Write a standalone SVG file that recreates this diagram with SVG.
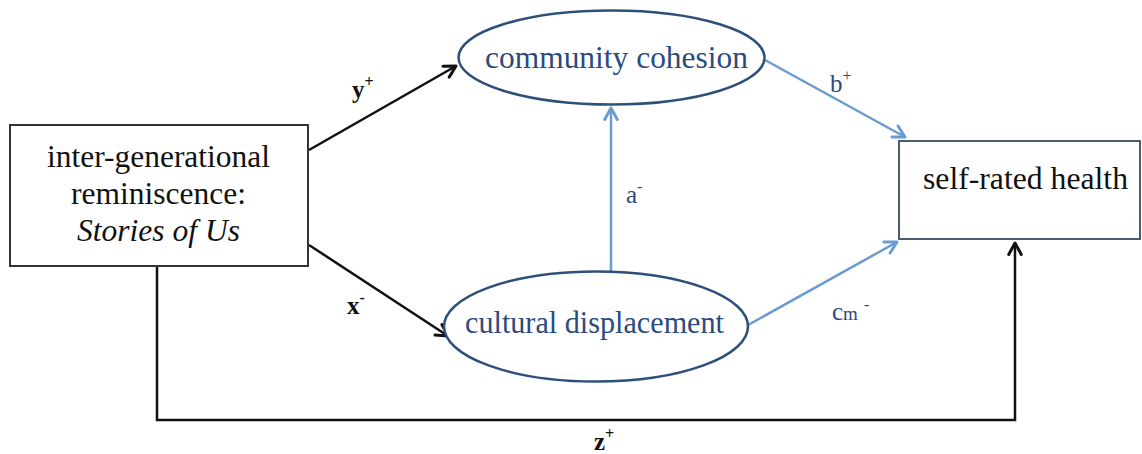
<svg xmlns="http://www.w3.org/2000/svg" width="1142" height="454" viewBox="0 0 1142 454">
<style>
text{font-family:"Liberation Serif","Times New Roman",serif;}
.node{fill:#111;font-size:31px;}
.ell{fill:#2b4a7e;font-size:31px;}
.lblk{font-weight:bold;font-size:25px;fill:#111;}
.lblu{font-size:25px;fill:#2b4a7e;}
.sup{font-size:16px;}
.bk{stroke:#111;stroke-width:2.5;fill:none;}
.bl{stroke:#6a9bd1;stroke-width:2.5;fill:none;}
</style>
<defs>
<marker id="ak" viewBox="0 0 14 14" refX="12" refY="7" markerWidth="16" markerHeight="16" markerUnits="userSpaceOnUse" orient="auto">
<path d="M2,1.5 L12,7 L2,12.5" fill="none" stroke="#111" stroke-width="2.6" stroke-linecap="round" stroke-linejoin="round"/>
</marker>
<marker id="ab" viewBox="0 0 14 14" refX="12" refY="7" markerWidth="16" markerHeight="16" markerUnits="userSpaceOnUse" orient="auto">
<path d="M2,1.5 L12,7 L2,12.5" fill="none" stroke="#6a9bd1" stroke-width="2.6" stroke-linecap="round" stroke-linejoin="round"/>
</marker>
</defs>
<g id="connectors">
<line class="bk" x1="309" y1="150" x2="456" y2="66" marker-end="url(#ak)"/>
<line class="bk" x1="309" y1="245" x2="448" y2="336" marker-end="url(#ak)"/>
<path class="bk" d="M157,266 V420 H1015 V243" marker-end="url(#ak)"/>
<line class="bl" x1="611" y1="271" x2="611" y2="108" marker-end="url(#ab)"/>
<line class="bl" x1="765" y1="60" x2="905" y2="137" marker-end="url(#ab)"/>
<line class="bl" x1="748" y1="325" x2="897" y2="242" marker-end="url(#ab)"/>
<text class="lblk" x="352" y="98">y<tspan class="sup" dy="-11">+</tspan></text>
<text class="lblk" x="347" y="314">x<tspan class="sup" dy="-11">-</tspan></text>
<text class="lblk" x="594" y="450">z<tspan class="sup" dy="-11">+</tspan></text>
<text class="lblu" x="626" y="203">a<tspan class="sup" dy="-11">-</tspan></text>
<text class="lblu" x="830" y="92">b<tspan class="sup" dy="-11">+</tspan></text>
<text class="lblu" x="832" y="320">c<tspan font-size="19">m</tspan><tspan class="sup" dx="6" dy="-10">-</tspan></text>
</g>
<g id="n-intergenerational">
<rect x="10" y="125" width="298" height="141" fill="#fff" stroke="#333" stroke-width="2"/>
<text class="node" x="158.5" y="167" text-anchor="middle" textLength="223" lengthAdjust="spacingAndGlyphs">inter-generational</text>
<text class="node" x="158.5" y="204" text-anchor="middle" textLength="175" lengthAdjust="spacingAndGlyphs">reminiscence:</text>
<text class="node" x="158.5" y="241" text-anchor="middle" font-style="italic" textLength="163" lengthAdjust="spacingAndGlyphs">Stories of Us</text>
</g>
<g id="n-community">
<ellipse cx="611.5" cy="57.5" rx="153" ry="47" fill="#fff" stroke="#2d4f7a" stroke-width="2.5"/>
<text class="ell" x="616.5" y="68" text-anchor="middle" textLength="263" lengthAdjust="spacingAndGlyphs">community cohesion</text>
</g>
<g id="n-cultural">
<ellipse cx="596" cy="326.5" rx="152" ry="55" fill="#fff" stroke="#2d4f7a" stroke-width="2.5"/>
<text class="ell" x="594.5" y="333" text-anchor="middle" textLength="259" lengthAdjust="spacingAndGlyphs">cultural displacement</text>
</g>
<g id="n-health">
<rect x="899" y="141" width="241" height="98" fill="#fff" stroke="#4a5a70" stroke-width="2"/>
<text class="node" x="1025.5" y="189" text-anchor="middle" textLength="205" lengthAdjust="spacingAndGlyphs">self-rated health</text>
</g>
</svg>
